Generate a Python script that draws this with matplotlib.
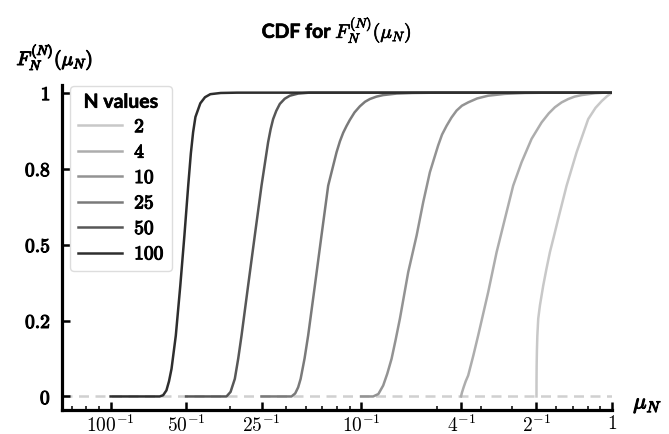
import matplotlib
matplotlib.use("Agg")
import matplotlib.pyplot as plt
import matplotlib.patheffects as pe
from matplotlib.ticker import FixedLocator, FuncFormatter, NullFormatter

plt.rcParams['mathtext.fontset'] = 'cm'

# N values and curve samples (x = mu_N, y = CDF)
n_values = [2, 4, 10, 25, 50, 100]
colors = ['#c8c8c8', '#adadad', '#939393', '#7a7a7a', '#575757', '#2e2e2e']

x_n2 = [0.5, 0.5002, 0.5008, 0.502, 0.504, 0.5081, 0.5162, 0.532, 0.548, 0.5657, 0.588,
        0.6106, 0.6595, 0.723, 0.8042, 0.86, 0.9097, 0.955, 1.0]
y_n2 = [0.0, 0.05, 0.1, 0.15, 0.2, 0.256, 0.3, 0.365, 0.42, 0.475, 0.53,
        0.585, 0.694, 0.804, 0.913, 0.95, 0.972, 0.988, 1.0]

x_n4 = [0.25, 0.252, 0.256, 0.261, 0.267, 0.28, 0.2927, 0.3208, 0.3467, 0.3742, 0.4037,
        0.4361, 0.4781, 0.5241, 0.56, 0.5922, 0.63, 0.6692, 0.71, 0.7569, 0.8554, 0.93, 1.0]
y_n4 = [0.0, 0.012, 0.03, 0.05, 0.069, 0.135, 0.201, 0.343, 0.475, 0.585, 0.694,
        0.771, 0.848, 0.902, 0.932, 0.952, 0.968, 0.979, 0.987, 0.992, 0.998, 1.0, 1.0]

x_n10 = [0.1, 0.1115, 0.117, 0.1223, 0.127, 0.1321, 0.137, 0.1426, 0.1539, 0.1663, 0.1766,
         0.1878, 0.2026, 0.21, 0.219, 0.229, 0.24, 0.252, 0.267, 0.29, 0.3208, 0.3742,
         0.45, 0.55, 1.0]
y_n10 = [0.0, 0.0, 0.008, 0.036, 0.075, 0.124, 0.185, 0.256, 0.409, 0.53, 0.639,
         0.738, 0.826, 0.862, 0.891, 0.918, 0.941, 0.957, 0.968, 0.981, 0.99, 0.996,
         0.999, 1.0, 1.0]

x_n25 = [0.04, 0.0527, 0.0545, 0.056, 0.0573, 0.0594, 0.0614, 0.0653, 0.0694, 0.0738,
         0.0797, 0.0822, 0.0847, 0.0873, 0.09, 0.094, 0.0987, 0.1035, 0.1082, 0.115,
         0.1223, 0.1383, 0.16, 0.2, 1.0]
y_n25 = [0.0, 0.0, 0.01, 0.03, 0.058, 0.125, 0.201, 0.365, 0.53, 0.694,
         0.804, 0.84, 0.868, 0.89, 0.91, 0.935, 0.955, 0.97, 0.979, 0.987,
         0.992, 0.997, 0.999, 1.0, 1.0]

x_n50 = [0.02, 0.029, 0.0301, 0.0313, 0.0323, 0.0333, 0.03537, 0.03761, 0.04, 0.0425,
         0.0435, 0.0445, 0.0458, 0.04733, 0.0495, 0.0519, 0.056, 0.062, 1.0]
y_n50 = [0.0, 0.0, 0.015, 0.058, 0.125, 0.201, 0.365, 0.53, 0.694, 0.837,
         0.88, 0.913, 0.94, 0.963, 0.98, 0.99, 0.997, 1.0, 1.0]

x_n100 = [0.01, 0.0157, 0.0162, 0.0167, 0.0171, 0.0175, 0.0182, 0.01897, 0.0197, 0.0204,
          0.0209, 0.02134, 0.0218, 0.0228, 0.0238, 0.025, 0.0275, 0.032, 1.0]
y_n100 = [0.0, 0.0, 0.004, 0.02, 0.05, 0.091, 0.2, 0.365, 0.53, 0.694,
          0.8, 0.87, 0.92, 0.965, 0.985, 0.995, 0.999, 1.0, 1.0]

curves_x = [x_n2, x_n4, x_n10, x_n25, x_n50, x_n100]
curves_y = [y_n2, y_n4, y_n10, y_n25, y_n50, y_n100]

xtick_vals = [1/100, 1/50, 1/25, 1/10, 1/4, 1/2, 1]
xtick_labels = [r'$100^{-1}$', r'$50^{-1}$', r'$25^{-1}$', r'$10^{-1}$', r'$4^{-1}$', r'$2^{-1}$', r'$1$']
ytick_vals = [0, 0.25, 0.5, 0.75, 1]

bold = [pe.withStroke(linewidth=0.8, foreground='black')]

fig = plt.figure(figsize=(6.69, 4.34), dpi=100)
ax = fig.add_axes([0.0927, 0.055, 0.822, 0.749])

ax.axhline(0, color='#d0d0d0', lw=1.8, ls=(0, (4, 2.6)), zorder=0)

for n, xs, ys, c in zip(n_values, curves_x, curves_y, colors):
    ax.plot(xs, ys, color=c, lw=1.8, label=r'$\mathbf{%d}$' % n)

ax.set_xscale('log')
ax.set_xlim(0.0064, 1.0)
ax.set_ylim(-0.045, 1.025)

ax.xaxis.set_major_locator(FixedLocator(xtick_vals))
ax.set_xticklabels(xtick_labels, fontsize=14)
ax.xaxis.set_minor_formatter(NullFormatter())
ax.set_yticks(ytick_vals)


def yfmt(v, pos):
    s = f'{v:.1f}'.rstrip('0').rstrip('.')
    return r'$\mathbf{%s}$' % s


ax.yaxis.set_major_formatter(FuncFormatter(yfmt))
ax.tick_params(axis='y', labelsize=14)
for lab in ax.get_yticklabels():
    lab.set_path_effects(bold)

for side in ['top', 'right']:
    ax.spines[side].set_visible(False)
for side in ['left', 'bottom']:
    ax.spines[side].set_linewidth(2.3)
ax.tick_params(which='major', direction='in', length=6, width=1.8)
ax.tick_params(axis='y', which='major', pad=8)
ax.tick_params(axis='x', which='major', pad=3)
ax.tick_params(which='minor', direction='in', length=3, width=1.1)

t = ax.set_title(r'CDF for $\boldsymbol{F_N^{(N)}(\mu_N)}$', fontsize=14,
                 fontweight='bold', family='Lato', pad=34)
t.set_path_effects([pe.withStroke(linewidth=0.5, foreground='black')])
yl = ax.set_ylabel(r'$\boldsymbol{F_N^{(N)}(\mu_N)}$', fontsize=14, rotation=0)
yl.set_path_effects(bold)
ax.yaxis.set_label_coords(-0.013, 1.04)
xl = ax.set_xlabel(r'$\boldsymbol{\mu_N}$', fontsize=16)
xl.set_path_effects(bold)
ax.xaxis.set_label_coords(1.065, 0.045)

leg = ax.legend(loc='upper left', bbox_to_anchor=(0.0145, 0.997), borderaxespad=0,
                title='N values', fontsize=14, handlelength=2.3, handletextpad=0.6,
                labelspacing=0.33, edgecolor='#dddddd', framealpha=1)
leg.get_title().set_fontweight('bold')
leg.get_title().set_fontsize(14)
leg.get_title().set_family('Lato')
leg.get_title().set_path_effects([pe.withStroke(linewidth=0.4, foreground='black')])
for txt in leg.get_texts():
    txt.set_path_effects(bold)

fig.savefig('out.png', dpi=100)
